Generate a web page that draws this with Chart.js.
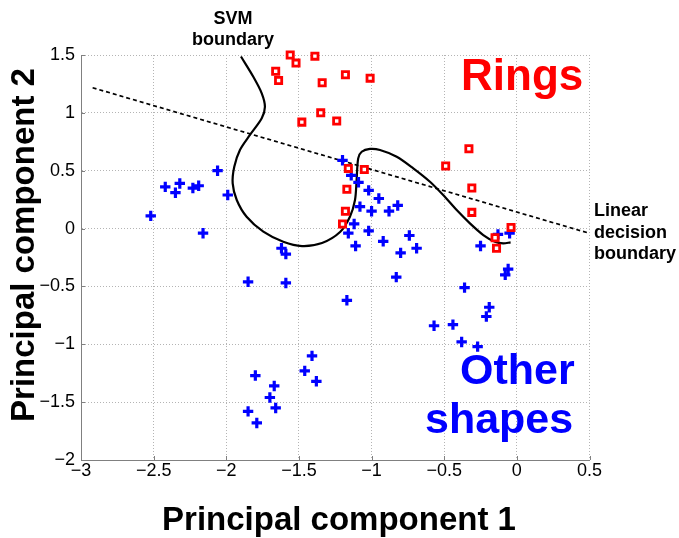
<!DOCTYPE html>
<html>
<head>
<meta charset="utf-8">
<script src="https://cdn.jsdelivr.net/npm/chart.js@4.4.1/dist/chart.umd.min.js"></script>
<style>
  html, body { margin: 0; padding: 0; background: #fff; }
  canvas { display: block; }
</style>
</head>
<body>
<canvas id="chart" width="679" height="538"></canvas>
<script>
// red squares ("Rings")
const ringsX = [-1.56, -1.52, -1.39, -1.66, -1.64, -1.34, -1.35, -1.48, -1.24, -1.18, -1.01,
  -0.33, -0.49, -1.16, -1.05, -0.31, -1.17, -0.31, -1.18, -1.20, -0.04, -0.15, -0.14];
const ringsY = [1.50, 1.43, 1.49, 1.36, 1.28, 1.26, 1.00, 0.92, 0.93, 1.33, 1.30,
  0.69, 0.54, 0.52, 0.51, 0.35, 0.34, 0.14, 0.15, 0.04, 0.01, -0.08, -0.17];

// blue crosses ("Other shapes")
const otherX = [-2.06, -2.42, -2.32, -2.35, -2.23, -2.19, -1.99, -2.52, -2.16, -1.62, -1.59,
  -1.20, -1.14, -1.09, -1.02, -0.95, -0.82, -1.08, -1.00, -0.88, -1.12, -1.16, -1.02,
  -1.11, -0.92, -0.80, -0.74, -0.69, -0.25, -0.13, -0.05, -0.06, -0.08,
  -1.85, -1.59, -0.83, -1.17, -0.36, -0.19, -0.21, -0.57, -0.44, -0.38, -0.27,
  -1.41, -1.46, -1.38, -1.80, -1.67, -1.70, -1.66, -1.85, -1.79];
const otherY = [0.50, 0.36, 0.39, 0.31, 0.35, 0.37, 0.29, 0.11, -0.04, -0.17, -0.22,
  0.59, 0.46, 0.40, 0.33, 0.26, 0.20, 0.19, 0.15, 0.15, 0.04, -0.04, -0.02,
  -0.15, -0.11, -0.21, -0.06, -0.17, -0.15, -0.05, -0.04, -0.35, -0.40,
  -0.46, -0.47, -0.42, -0.62, -0.51, -0.68, -0.76, -0.84, -0.83, -0.98, -1.02,
  -1.10, -1.23, -1.32, -1.27, -1.36, -1.46, -1.55, -1.58, -1.68];

// traced SVM boundary
const svmX = [-1.899, -1.814, -1.756, -1.734, -1.756, -1.837, -1.906, -1.945, -1.956, -1.928,
  -1.860, -1.745, -1.608, -1.479, -1.341, -1.217, -1.149, -1.114, -1.103, -1.092, -1.068,
  -1.011, -0.942, -0.827, -0.713, -0.598, -0.507, -0.414, -0.323, -0.231, -0.151, -0.094, -0.043];
const svmY = [1.487, 1.312, 1.169, 1.053, 0.953, 0.809, 0.679, 0.535, 0.391, 0.247,
  0.102, -0.027, -0.114, -0.151, -0.125, -0.030, 0.102, 0.247, 0.420, 0.607, 0.664,
  0.688, 0.679, 0.621, 0.521, 0.405, 0.290, 0.160, 0.045, -0.056, -0.114, -0.128, -0.119];

// linear decision boundary
const linearX = [-2.92, 0.5];
const linearY = [1.217, -0.041];

const xTicks = [-3, -2.5, -2, -1.5, -1, -0.5, 0, 0.5];
const yTicks = [-2, -1.5, -1, -0.5, 0, 0.5, 1, 1.5];

const FONT = '"Liberation Sans", Arial, Helvetica, sans-serif';

function zip(xs, ys) {
  return xs.map((x, i) => ({ x: x, y: ys[i] }));
}

function fmt(v) {
  return (v < 0 ? '\u2212' : '') + Math.abs(v);
}

const annotations = {
  id: 'annotations',
  afterDraw(chart) {
    const ctx = chart.ctx;
    const xs = chart.scales.x, ys = chart.scales.y;
    const area = chart.chartArea;

    // small inward tick marks
    ctx.save();
    ctx.strokeStyle = '#808080';
    ctx.lineWidth = 1;
    ctx.beginPath();
    xTicks.forEach(v => {
      const px = Math.round(xs.getPixelForValue(v)) + 0.5;
      ctx.moveTo(px, area.bottom);
      ctx.lineTo(px, area.bottom - 4);
    });
    yTicks.forEach(v => {
      const py = Math.round(ys.getPixelForValue(v)) + 0.5;
      ctx.moveTo(area.left, py);
      ctx.lineTo(area.left + 4, py);
    });
    ctx.stroke();
    ctx.restore();

    ctx.save();
    ctx.textBaseline = 'alphabetic';

    // callouts
    ctx.fillStyle = '#000';
    ctx.font = 'bold 18px ' + FONT;
    ctx.textAlign = 'center';
    ctx.fillText('SVM', 233, 24);
    ctx.fillText('boundary', 233, 44.5);
    ctx.textAlign = 'left';
    ctx.fillText('Linear', 594, 216);
    ctx.fillText('decision', 594, 237.5);
    ctx.fillText('boundary', 594, 258.5);

    // class labels
    ctx.font = 'bold 44px ' + FONT;
    ctx.fillStyle = '#ff0000';
    ctx.fillText('Rings', 461, 90);
    ctx.font = 'bold 43px ' + FONT;
    ctx.fillStyle = '#0000ff';
    ctx.fillText('Other', 460, 384);
    ctx.fillText('shapes', 425, 433);

    // axis titles
    ctx.fillStyle = '#000';
    ctx.font = 'bold 33px ' + FONT;
    ctx.textAlign = 'center';
    ctx.fillText('Principal component 1', 339, 530);
    ctx.translate(34, 245);
    ctx.rotate(-Math.PI / 2);
    ctx.fillText('Principal component 2', 0, 0);
    ctx.restore();
  }
};

const gridOpts = { color: '#b4b4b4', lineWidth: 1, drawTicks: false };
const borderOpts = { color: '#808080', width: 1, dash: [1, 2] };
const tickFont = { family: FONT, size: 18 };

new Chart(document.getElementById('chart'), {
  type: 'scatter',
  data: {
    datasets: [
      {
        label: 'Rings',
        data: zip(ringsX, ringsY),
        clip: false,
        pointStyle: 'rect',
        pointRadius: 4.4,
        pointBorderWidth: 2.8,
        pointBorderColor: '#ff0000',
        pointBackgroundColor: '#ffffff'
      },
      {
        label: 'Other shapes',
        data: zip(otherX, otherY),
        clip: false,
        pointStyle: 'cross',
        pointRadius: 5.2,
        pointBorderWidth: 3.2,
        pointBorderColor: '#0000ff',
        pointBackgroundColor: '#0000ff'
      },
      {
        label: 'SVM boundary',
        data: zip(svmX, svmY),
        clip: false,
        showLine: true,
        pointRadius: 0,
        borderColor: '#000',
        borderWidth: 2.2,
        tension: 0.3,
        fill: false
      },
      {
        label: 'Linear decision boundary',
        data: zip(linearX, linearY),
        showLine: true,
        pointRadius: 0,
        borderColor: '#000',
        borderWidth: 1.7,
        borderDash: [4, 3],
        fill: false
      }
    ]
  },
  options: {
    responsive: false,
    animation: false,
    layout: { padding: { left: 0, top: 55, right: 89.5, bottom: 0 } },
    plugins: {
      legend: { display: false },
      tooltip: { enabled: false }
    },
    scales: {
      x: {
        type: 'linear',
        min: -3,
        max: 0.5,
        afterBuildTicks: s => { s.ticks = xTicks.map(v => ({ value: v })); },
        afterFit: s => { s.height = 78; },
        grid: gridOpts,
        border: borderOpts,
        ticks: { font: tickFont, color: '#000', padding: 0, maxRotation: 0, autoSkip: false, callback: fmt }
      },
      y: {
        type: 'linear',
        min: -2,
        max: 1.5,
        afterBuildTicks: s => { s.ticks = yTicks.map(v => ({ value: v })); },
        afterFit: s => { s.width = 81; },
        grid: gridOpts,
        border: borderOpts,
        ticks: { font: tickFont, color: '#000', padding: 6, autoSkip: false, callback: fmt }
      }
    }
  },
  plugins: [annotations]
});
</script>
</body>
</html>
